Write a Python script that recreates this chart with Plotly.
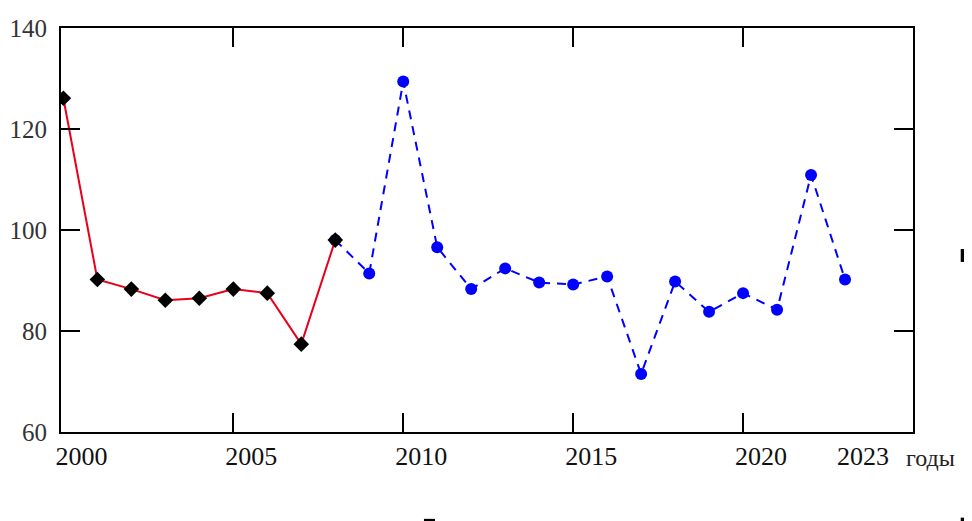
import plotly.graph_objects as go

# Data
years_red = [2000, 2001, 2002, 2003, 2004, 2005, 2006, 2007, 2008]
values_red = [126.1, 90.2, 88.3, 86.1, 86.5, 88.3, 87.5, 77.4, 98.0]

years_blue = [2008, 2009, 2010, 2011, 2012, 2013, 2014, 2015, 2016, 2017,
              2018, 2019, 2020, 2021, 2022, 2023]
values_blue = [98.0, 91.4, 129.4, 96.6, 88.3, 92.4, 89.6, 89.2, 90.8, 71.5,
               89.8, 83.8, 87.5, 84.2, 110.9, 90.2]

x_tick_marks = [2005, 2010, 2015, 2020]
x_tick_labels = [2000, 2005, 2010, 2015, 2020, 2023]
y_ticks = [60, 80, 100, 120, 140]

font_family = "Liberation Serif"
x_range = [1999.93, 2025]

fig = go.Figure()

# Blue dashed series (primary x axis)
fig.add_trace(go.Scatter(
    x=years_blue, y=values_blue, mode="lines+markers",
    line=dict(color="#0000ff", width=2, dash="9px,7px"),
    marker=dict(symbol="circle", size=12, color="#0000ff"),
    showlegend=False, xaxis="x", yaxis="y",
))

# Red solid series with black markers (overlay axis, drawn on top)
fig.add_trace(go.Scatter(
    x=years_red, y=values_red, mode="lines+markers",
    line=dict(color="#e8001a", width=2),
    marker=dict(symbol="diamond", size=12, color="black"),
    showlegend=False, xaxis="x2", yaxis="y",
))

# page body adds an 8px offset, margins compensate for it
fig.update_layout(
    width=972,
    height=521,
    autosize=False,
    plot_bgcolor="white",
    paper_bgcolor="white",
    margin=dict(l=53, r=67, t=20, b=97),
    font=dict(family=font_family, size=26, color="#222"),
    xaxis=dict(
        range=x_range,
        tickvals=x_tick_marks,
        showticklabels=False,
        ticks="inside",
        ticklen=19,
        tickwidth=2,
        tickcolor="black",
        showline=True,
        linecolor="black",
        linewidth=2,
        mirror="ticks",
        showgrid=False,
        zeroline=False,
        automargin=False,
    ),
    xaxis2=dict(
        range=x_range,
        overlaying="x",
        side="bottom",
        tickvals=x_tick_labels,
        ticktext=[str(v) for v in x_tick_labels],
        ticks="",
        ticklabelshift=18,
        ticklabelstandoff=6,
        tickfont=dict(family=font_family, size=26, color="#111"),
        showline=False,
        showgrid=False,
        zeroline=False,
        automargin=False,
    ),
    yaxis=dict(
        range=[60, 140],
        tickvals=y_ticks,
        ticks="inside",
        ticklen=19,
        tickwidth=2,
        tickcolor="black",
        ticklabelstandoff=7,
        tickfont=dict(family=font_family, size=25, color="#333"),
        showline=True,
        linecolor="black",
        linewidth=2,
        mirror="ticks",
        showgrid=False,
        zeroline=False,
        automargin=False,
    ),
)

# Axis unit label
fig.add_annotation(
    text="годы", xref="paper", yref="paper", x=0.99, y=-0.064,
    xanchor="left", yanchor="middle", showarrow=False,
    font=dict(family=font_family, size=24, color="#222"),
)

# Small stray marks visible at the picture edges
for x0, x1, y0, y1 in [(1.056, 1.066, 0.421, 0.453),
                       (0.426, 0.439, -0.222, -0.215),
                       (1.056, 1.066, -0.222, -0.212)]:
    fig.add_shape(type="rect", xref="paper", yref="paper",
                  x0=x0, x1=x1, y0=y0, y1=y1,
                  line=dict(width=0), fillcolor="black")

fig.write_html("out.html")
